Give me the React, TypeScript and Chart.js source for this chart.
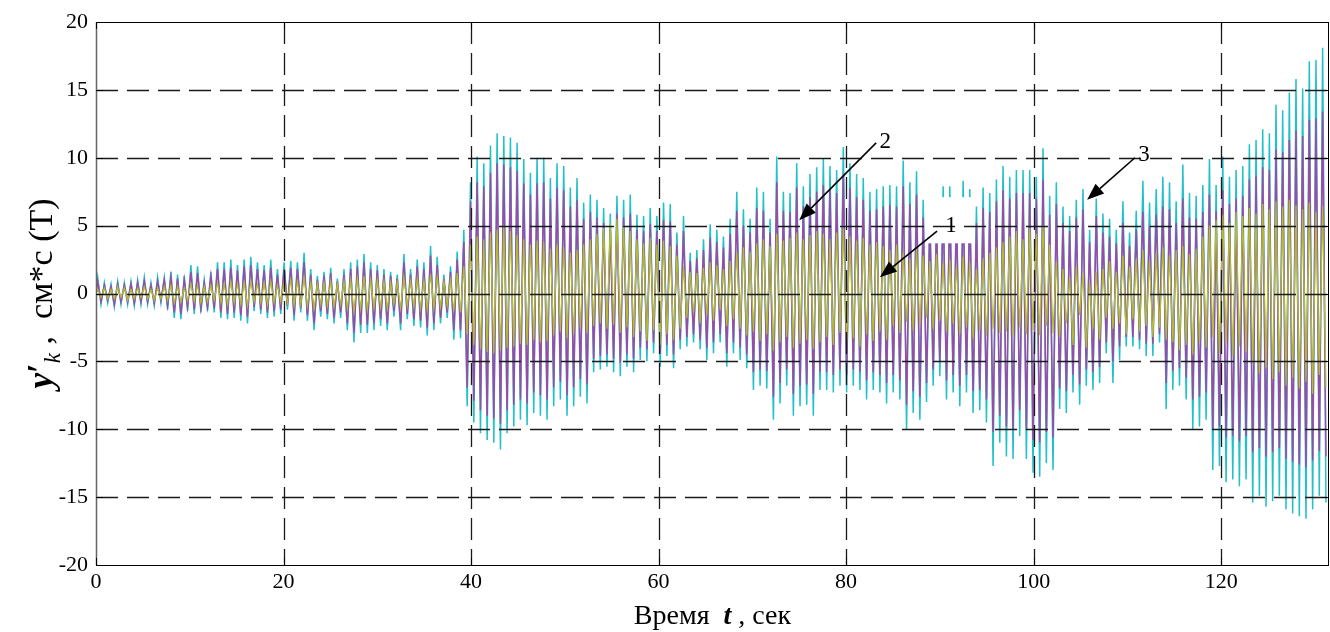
import { useEffect, useRef } from 'react';
import { Chart, registerables } from 'chart.js';

Chart.register(...registerables);

// ---- Data: one max and one min per oscillation cycle ----
const HALF_STEP = 0.355; // seconds between a crest and the following trough
const FIRST_T = 0.18;

const X_TICKS = [0, 20, 40, 60, 80, 100, 120];
const Y_TICKS = [-20, -15, -10, -5, 0, 5, 10, 15, 20];

// curve 3 (cyan)
const CYAN_MAX = [
  1.2, 0.8, 0.7, 0.9, 0.8, 0.9, 1.0, 1.2, 0.8, 1.2, 1.2, 1.6, 1.4, 1.3, 2.1, 2.0, 1.0, 1.6, 2.3, 2.3, 2.5, 2.1, 2.5, 2.7, 2.3, 2.1, 2.5, 1.8,
  2.3, 2.4, 2.3, 3.0, 1.8, 1.3, 1.6, 1.9, 1.1, 1.8, 2.3, 2.5, 2.9, 2.3, 2.1, 1.8, 1.6, 1.4, 2.9, 1.8, 2.5, 2.3, 3.5, 2.7, 1.4, 2.0, 3.1,
  4.7, 8.2, 10.1, 9.6, 10.9, 11.8, 11.6, 11.5, 11.1, 9.9, 8.9, 10.0, 10.0, 8.5, 9.6, 9.4, 7.8, 8.5, 6.7, 7.3, 6.9, 6.3, 5.9, 7.2, 6.9,
  7.3, 5.8, 5.7, 6.3, 5.7, 6.7, 6.6, 4.5, 5.7, 3.0, 3.2, 4.0, 5.1, 4.7, 4.2, 5.5, 7.5, 6.2, 5.5, 7.8, 7.5, 5.5, 10.1, 7.5, 7.4, 9.6, 7.9, 8.8, 9.3,
  9.9, 9.4, 9.1, 10.8, 9.6, 8.8, 8.5, 7.5, 7.7, 7.9, 8.0, 7.9, 9.8, 8.2, 9.0, 6.9, 6.4, 5.9, 7.9, 7.9, 6.9, 8.3, 7.7, 6.4, 7.8, 7.4, 8.4,
  9.4, 8.6, 9.1, 9.1, 9.1, 8.6, 10.7, 7.2, 8.2, 6.4, 5.7, 6.9, 7.7, 4.7, 7.0,
  5.9, 5.5, 4.7, 6.8, 4.5, 6.1, 8.3, 6.7, 7.7, 8.6, 8.2, 6.8, 9.5, 7.4, 7.2, 8.0, 9.9, 8.0, 10.1, 8.6, 9.1, 9.4, 11.0, 11.3, 12.1, 11.8, 13.9, 13.5, 14.8, 15.8, 15.1, 17.1, 17.2, 18.1,
];
const CYAN_MIN = [
  -0.8, -0.7, -1.0, -0.8, -0.8, -0.9, -0.8, -0.8, -0.9, -0.7, -1.2, -1.8, -1.9, -1.3, -1.5, -1.4, -1.3, -1.4, -1.8, -1.9, -1.8, -2.0, -2.2, -1.3, -1.5, -1.8, -1.7, -1.5,
  -1.2, -2.0, -1.4, -2.0, -2.7, -1.7, -1.9, -2.2, -1.8, -2.7, -3.6, -2.9, -2.9, -2.7, -2.4, -2.7, -1.7, -2.7, -1.9, -2.4, -2.5, -3.1, -2.7, -2.2, -1.8, -3.4, -3.3,
  -8.3, -9.5, -10.3, -10.8, -11.0, -11.5, -10.3, -9.8, -9.3, -9.7, -8.8, -9.0, -9.3, -8.3, -7.8, -9.0, -8.3, -7.6, -8.1, -5.8, -5.6, -5.4, -5.8, -6.1, -5.4,
  -5.8, -4.9, -5.0, -4.4, -5.4, -4.6, -5.5, -4.1, -3.9, -3.6, -4.1, -4.9, -4.4, -3.6, -5.4, -4.4, -4.9, -5.5, -7.1, -6.8, -7.0, -9.3, -8.1, -6.8, -9.0, -8.3, -8.2, -9.0, -7.1,
  -7.1, -7.3, -6.8, -7.3, -6.8, -7.1, -7.8, -7.1, -7.3, -8.1, -7.3, -7.8, -10.0, -8.8, -9.3, -8.0, -6.8, -6.1, -7.8, -7.3, -8.3, -7.3, -8.8, -8.6, -9.5, -12.7, -11.0,
  -12.0, -12.2, -10.5, -12.2, -13.2, -13.5, -12.5, -13.0, -8.5, -8.8, -7.3, -8.2, -6.8, -7.1, -6.6,
  -4.4, -6.6, -4.9, -3.9, -3.9, -4.1, -4.6, -4.6, -3.6, -8.5, -7.1, -6.8, -7.8, -10.0, -9.8, -9.3, -13.0, -12.7, -13.9, -13.7, -14.2, -13.7, -15.4, -14.9, -15.7, -15.3, -14.9, -15.9, -16.2, -16.4, -16.6, -15.9, -14.9, -15.4,
];

// curve 2 (magenta)
const MAG_MAX = [
  0.9, 0.6, 0.5, 0.7, 0.6, 0.7, 0.8, 0.9, 0.6, 0.9, 1.0, 1.2, 1.1, 1.0, 1.6, 1.5, 0.8, 1.3, 1.8, 1.8, 1.9, 1.7, 2.0, 2.1, 1.8, 1.7, 1.9, 1.4,
  1.8, 1.9, 1.8, 2.3, 1.4, 1.0, 1.3, 1.5, 0.9, 1.4, 1.8, 2.0, 2.3, 1.8, 1.7, 1.4, 1.3, 1.1, 2.3, 1.4, 2.0, 1.8, 2.8, 2.1, 1.1, 1.6, 2.5,
  3.8, 6.8, 8.2, 7.9, 8.9, 9.6, 9.5, 9.3, 9.0, 8.1, 7.3, 8.1, 8.2, 7.0, 7.8, 7.6, 6.4, 6.9, 5.5, 6.0, 5.6, 5.2, 4.8, 5.9, 5.6,
  5.9, 4.7, 4.6, 5.1, 4.6, 5.4, 5.3, 3.6, 4.6, 2.4, 2.6, 3.2, 4.1, 3.8, 3.4, 4.4, 6.1, 5.0, 4.5, 6.3, 6.1, 4.5, 8.2, 6.1, 6.0, 7.8, 6.4, 7.1, 7.5,
  8.0, 7.6, 7.4, 8.7, 7.8, 7.1, 6.9, 6.1, 6.2, 6.4, 6.5, 6.4, 7.9, 6.6, 7.3, 5.6, 5.2, 4.8, 6.4, 6.4, 5.6, 6.7, 6.2, 5.2, 6.3, 6.0, 6.8,
  7.6, 7.0, 7.4, 7.4, 7.4, 7.0, 8.4, 5.8, 6.6, 5.2, 4.6, 5.6, 6.2, 3.8, 5.7,
  4.5, 4.2, 3.7, 5.2, 3.5, 4.7, 6.0, 5.0, 5.8, 6.4, 6.2, 5.2, 7.0, 5.6, 5.5, 6.0, 7.3, 6.1, 7.6, 6.6, 7.0, 7.2, 8.4, 8.7, 9.3, 9.1, 10.6, 10.4, 11.3, 12.0, 11.6, 12.8, 12.9, 13.4,
];
const MAG_MIN = [
  -0.6, -0.5, -0.8, -0.6, -0.6, -0.7, -0.6, -0.6, -0.7, -0.5, -0.9, -1.4, -1.5, -1.0, -1.2, -1.1, -1.0, -1.1, -1.4, -1.5, -1.4, -1.6, -1.7, -1.0, -1.2, -1.4, -1.3, -1.2,
  -0.9, -1.6, -1.1, -1.6, -2.2, -1.3, -1.5, -1.8, -1.4, -2.2, -2.9, -2.3, -2.3, -2.2, -1.9, -2.2, -1.3, -2.2, -1.5, -1.9, -2.0, -2.5, -2.2, -1.8, -1.4, -2.7, -2.7,
  -6.9, -7.9, -8.6, -9.0, -9.2, -9.6, -8.6, -8.2, -7.8, -8.1, -7.3, -7.5, -7.8, -6.9, -6.5, -7.5, -6.9, -6.3, -6.7, -4.8, -4.6, -4.5, -4.8, -5.1, -4.5,
  -4.8, -4.0, -4.1, -3.6, -4.4, -3.8, -4.5, -3.4, -3.2, -3.0, -3.4, -4.0, -3.6, -3.0, -4.4, -3.6, -4.0, -4.5, -5.8, -5.6, -5.7, -7.6, -6.6, -5.6, -7.4, -6.8, -6.7, -7.4, -5.8,
  -5.8, -6.0, -5.6, -6.0, -5.6, -5.8, -6.4, -5.8, -6.0, -6.6, -6.0, -6.4, -8.2, -7.2, -7.6, -6.6, -5.6, -5.0, -6.4, -6.0, -6.8, -6.0, -7.2, -7.1, -7.8, -10.2, -9.0,
  -9.8, -10.0, -8.6, -10.0, -10.8, -11.0, -10.2, -10.6, -7.0, -7.2, -6.0, -6.7, -5.6, -5.8, -5.4,
  -3.6, -5.0, -3.9, -3.2, -3.2, -3.4, -3.7, -3.7, -3.0, -6.6, -5.7, -5.5, -6.2, -7.8, -7.6, -7.3, -10.0, -9.8, -10.6, -10.5, -10.9, -10.5, -11.7, -11.4, -12.0, -11.7, -11.4, -12.2, -12.4, -12.6, -12.8, -12.3, -11.6, -12.0,
];

// curve 1 (yellow-green)
const YEL_MAX = [
  0.3, 0.4, 0.3, 0.5, 0.4, 0.3, 0.4, 0.5, 0.3, 0.4, 0.5, 0.6, 0.5, 0.4,
  0.7, 0.6, 0.5, 0.6, 0.8, 0.7, 0.9, 0.7, 0.8, 0.9, 0.7, 0.8, 0.9, 0.6,
  0.9, 1.0, 0.9, 1.2, 0.8, 0.7, 0.8, 0.9, 0.7, 0.9, 1.0, 1.1, 1.3, 1.0, 1.0, 0.9, 0.8, 0.8, 1.2, 0.9, 1.1, 1.0, 1.4, 1.2, 0.9, 1.0, 1.5,
  2.0, 3.6, 4.2, 4.0, 4.5, 4.7, 5.0, 4.6, 4.3, 4.0, 3.6, 3.9, 3.8, 3.3, 3.6, 3.4, 3.0, 3.2, 3.6, 4.0, 4.4, 4.8, 5.2, 5.5, 5.0,
  4.6, 4.0, 3.7, 4.1, 3.6, 3.9, 3.5, 2.8, 2.0, 1.6, 1.5, 1.9, 2.3, 2.1, 1.8, 2.4, 3.0, 3.4, 3.1, 3.7, 4.0, 3.5, 4.4, 3.9, 4.1, 4.5, 4.0, 4.3, 4.6,
  4.4, 4.0, 4.5, 4.8, 4.2, 3.9, 4.1, 3.6, 3.8, 3.5, 3.2, 3.6, 3.0, 2.6, 3.3, 2.8, 2.4, 2.9, 2.2, 2.5, 2.0, 2.7, 2.3, 1.8, 2.6, 3.0, 3.4,
  3.8, 4.2, 4.6, 4.0, 4.8, 4.4, 5.0, 3.6, 2.4, 1.8, 1.2, 2.0, 1.5, 0.8, 1.6,
  1.8, 2.4, 1.6, 2.8, 2.0, 2.6, 3.2, 2.4, 3.0, 3.4, 2.8, 3.2, 3.5, 2.9, 3.3, 4.2, 5.0, 5.4, 5.8, 5.2, 6.0, 5.7, 6.3, 5.9, 6.6, 6.2, 6.8, 6.4, 6.9, 6.5, 6.2, 6.7, 6.0, 6.4,
];
const YEL_MIN = [
  -0.3, -0.4, -0.4, -0.3, -0.5, -0.4, -0.3, -0.4, -0.5, -0.4, -0.5, -0.7, -0.6, -0.5,
  -0.6, -0.7, -0.6, -0.5, -0.7, -0.8, -0.7, -0.8, -0.9, -0.6, -0.7, -0.8, -0.7, -0.6,
  -0.7, -0.9, -0.8, -0.9, -1.1, -0.8, -0.9, -1.0, -0.8, -1.1, -1.3, -1.1, -1.2, -1.1, -1.0, -1.1, -0.8, -1.1, -0.9, -1.0, -1.1, -1.2, -1.1, -1.0, -0.9, -1.3, -1.4,
  -3.0, -3.8, -4.1, -4.3, -4.4, -4.2, -4.0, -3.9, -3.7, -3.8, -3.4, -3.6, -3.5, -3.1, -2.8, -3.3, -3.0, -2.6, -2.9, -2.4, -2.2, -2.6, -2.3, -2.9, -2.5,
  -3.2, -2.8, -3.5, -2.7, -3.8, -3.0, -3.4, -2.6, -1.8, -1.4, -2.2, -1.6, -2.0, -1.2, -2.4, -1.9, -2.6, -3.1, -2.8, -3.5, -3.0, -4.2, -3.6, -3.2, -4.0, -3.7, -3.4, -4.1, -3.6,
  -3.2, -3.8, -2.9, -3.6, -3.3, -3.9, -3.0, -3.5, -2.8, -3.4, -2.4, -2.9, -2.1, -2.7, -2.3, -1.8, -2.6, -2.0, -2.8, -2.2, -3.0, -2.5, -3.3, -2.7, -3.1, -2.6, -2.9,
  -2.8, -3.1, -2.5, -3.0, -2.7, -3.1, -2.4, -2.9, -3.2, -2.2, -3.8, -1.6, -4.0, -2.6, -3.4,
  -1.8, -2.6, -2.2, -3.0, -1.9, -2.8, -2.4, -3.2, -2.5, -3.4, -3.6, -4.2, -3.8, -4.5, -3.6, -4.0, -3.2, -4.4, -3.7, -4.6, -3.9, -4.3, -5.2, -5.9, -5.5, -6.3, -5.8, -6.8, -6.2, -7.0, -6.5, -7.4, -6.0, -6.9,
];

const SERIES = [
  { name: '1', max: YEL_MAX, min: YEL_MIN, color: '#b5bd2c', width: 1.2, order: 1 },
  { name: '2', max: MAG_MAX, min: MAG_MIN, color: '#9b4ba7', width: 1.5, order: 2 },
  { name: '3', max: CYAN_MAX, min: CYAN_MIN, color: '#22c0c8', width: 1.5, order: 3 },
];

// callouts in data units: label position, arrow start, arrow tip
const CALLOUTS = [
  { text: '2', lx: 84.1, ly: 11.2, sx: 83.2, sy: 11.1, tx: 75.0, ty: 5.4 },
  { text: '1', lx: 91.1, ly: 5.0, sx: 89.7, sy: 4.6, tx: 83.6, ty: 1.2 },
  { text: '3', lx: 111.7, ly: 10.2, sx: 110.8, sy: 10.0, tx: 105.7, ty: 6.9 },
];

const SERIF = '"Liberation Serif", "Times New Roman", serif';

function buildPoints(maxArr: number[], minArr: number[]) {
  const pts: { x: number; y: number }[] = [{ x: 0, y: 0 }];
  const n = Math.min(maxArr.length, minArr.length);
  for (let i = 0; i < n; i++) {
    pts.push({ x: FIRST_T + 2 * HALF_STEP * i, y: maxArr[i] });
    pts.push({ x: FIRST_T + 2 * HALF_STEP * i + HALF_STEP, y: minArr[i] });
  }
  return pts;
}

function drawSegments(ctx: CanvasRenderingContext2D, segs: { t: string; f: string; dy?: number }[], cx: number, baseY: number) {
  let total = 0;
  for (const s of segs) {
    ctx.font = s.f;
    total += ctx.measureText(s.t).width;
  }
  let x = cx - total / 2;
  for (const s of segs) {
    ctx.font = s.f;
    ctx.fillText(s.t, x, baseY + (s.dy || 0));
    x += ctx.measureText(s.t).width;
  }
}

const overlayPlugin = {
  id: 'overlay',
  afterDatasetsDraw(chart: any) {
    const { ctx, chartArea: a, scales } = chart;
    const xs = scales.x;
    const ys = scales.y;
    ctx.save();
    // white box behind label 1
    const b = CALLOUTS[1];
    ctx.fillStyle = '#fff';
    const bx1 = xs.getPixelForValue(b.lx - 2.5);
    const bx2 = xs.getPixelForValue(b.lx + 2.4);
    const by1 = ys.getPixelForValue(b.ly + 2.1);
    const by2 = ys.getPixelForValue(b.ly - 1.3);
    ctx.fillRect(bx1, by1, bx2 - bx1, by2 - by1);

    // dashed grid on top of the curves
    ctx.strokeStyle = '#1a1a1a';
    ctx.lineWidth = 1.3;
    ctx.setLineDash([22, 9]);
    for (const v of X_TICKS) {
      if (v === 0) continue;
      const px = Math.round(xs.getPixelForValue(v)) + 0.5;
      ctx.beginPath();
      ctx.moveTo(px, a.top);
      ctx.lineTo(px, a.bottom);
      ctx.stroke();
    }
    for (const v of Y_TICKS) {
      if (v === -20 || v === 20) continue;
      const py = Math.round(ys.getPixelForValue(v)) + 0.5;
      ctx.beginPath();
      ctx.moveTo(a.left, py);
      ctx.lineTo(a.right, py);
      ctx.stroke();
    }
    ctx.setLineDash([]);

    // frame and inner ticks
    ctx.strokeStyle = '#000';
    ctx.lineWidth = 1;
    ctx.strokeRect(Math.round(a.left) + 0.5, Math.round(a.top) + 0.5, Math.round(a.right - a.left) - 1, Math.round(a.bottom - a.top));
    ctx.strokeStyle = '#666';
    ctx.lineWidth = 1.5;
    ctx.beginPath();
    ctx.moveTo(Math.round(a.left) + 0.5, a.top);
    ctx.lineTo(Math.round(a.left) + 0.5, a.bottom);
    ctx.stroke();
    ctx.strokeStyle = '#000';
    ctx.lineWidth = 1;
    ctx.beginPath();
    for (const v of X_TICKS) {
      const px = Math.round(xs.getPixelForValue(v)) + 0.5;
      ctx.moveTo(px, a.bottom);
      ctx.lineTo(px, a.bottom - 7);
      ctx.moveTo(px, a.top);
      ctx.lineTo(px, a.top + 7);
    }
    for (const v of Y_TICKS) {
      const py = Math.round(ys.getPixelForValue(v)) + 0.5;
      ctx.moveTo(a.left, py);
      ctx.lineTo(a.left + 7, py);
      ctx.moveTo(a.right, py);
      ctx.lineTo(a.right - 7, py);
    }
    ctx.stroke();

    // callouts
    ctx.fillStyle = '#000';
    ctx.strokeStyle = '#000';
    ctx.lineWidth = 1.6;
    for (const c of CALLOUTS) {
      const sx = xs.getPixelForValue(c.sx);
      const sy = ys.getPixelForValue(c.sy);
      const tx = xs.getPixelForValue(c.tx);
      const ty = ys.getPixelForValue(c.ty);
      const ang = Math.atan2(ty - sy, tx - sx);
      const headLen = 17;
      const headW = 6.5;
      const bxp = tx - headLen * Math.cos(ang);
      const byp = ty - headLen * Math.sin(ang);
      ctx.beginPath();
      ctx.moveTo(sx, sy);
      ctx.lineTo(bxp, byp);
      ctx.stroke();
      ctx.beginPath();
      ctx.moveTo(tx, ty);
      ctx.lineTo(bxp + headW * Math.sin(ang), byp - headW * Math.cos(ang));
      ctx.lineTo(bxp - headW * Math.sin(ang), byp + headW * Math.cos(ang));
      ctx.closePath();
      ctx.fill();
      ctx.font = `23px ${SERIF}`;
      ctx.textAlign = 'left';
      ctx.textBaseline = 'middle';
      ctx.fillText(c.text, xs.getPixelForValue(c.lx) - 5, ys.getPixelForValue(c.ly));
    }
    ctx.restore();
  },
  afterDraw(chart: any) {
    const { ctx, chartArea: a } = chart;
    ctx.save();
    ctx.fillStyle = '#000';
    ctx.textAlign = 'left';
    ctx.textBaseline = 'alphabetic';
    // x title
    drawSegments(
      ctx,
      [
        { t: 'Время  ', f: `28px ${SERIF}` },
        { t: 't', f: `bold italic 28px ${SERIF}` },
        { t: ' , сек', f: `28px ${SERIF}` },
      ],
      (a.left + a.right) / 2,
      624
    );
    // y title (rotated)
    ctx.translate(52, (a.top + a.bottom) / 2);
    ctx.rotate(-Math.PI / 2);
    drawSegments(
      ctx,
      [
        { t: 'y', f: `bold italic 35px ${SERIF}` },
        { t: '′', f: `bold 35px ${SERIF}` },
        { t: 'k', f: `italic 23px ${SERIF}`, dy: 8 },
        { t: ' ,  см*с (Т)', f: `34px ${SERIF}` },
      ],
      0,
      0
    );
    ctx.restore();
  },
};

export default function App() {
  const ref = useRef<HTMLCanvasElement | null>(null);
  useEffect(() => {
    document.body.style.margin = '0';
    const canvas = ref.current;
    if (!canvas) return;
    const chart = new Chart(canvas, {
      type: 'line',
      data: {
        datasets: SERIES.map((s) => ({
          label: s.name,
          data: buildPoints(s.max, s.min),
          borderColor: s.color,
          backgroundColor: s.color,
          borderWidth: s.width,
          pointRadius: 0,
          tension: 0,
          fill: false,
          order: s.order,
        })),
      },
      options: {
        animation: false,
        responsive: false,
        devicePixelRatio: 1,
        layout: { padding: { top: 22, right: 1, left: 0, bottom: 0 } },
        plugins: { legend: { display: false }, tooltip: { enabled: false }, title: { display: false } },
        scales: {
          x: {
            type: 'linear',
            min: 0,
            max: 131.5,
            afterBuildTicks: (scale: any) => {
              scale.ticks = X_TICKS.map((v) => ({ value: v }));
            },
            afterFit: (scale: any) => {
              scale.height = 67;
            },
            grid: { display: false, drawTicks: false },
            border: { display: false },
            ticks: { color: '#000', font: { family: SERIF, size: 22 }, padding: 4, maxRotation: 0, autoSkip: false },
          },
          y: {
            type: 'linear',
            min: -20,
            max: 20,
            afterBuildTicks: (scale: any) => {
              scale.ticks = Y_TICKS.map((v) => ({ value: v }));
            },
            afterFit: (scale: any) => {
              scale.width = 96;
            },
            grid: { display: false, drawTicks: false },
            border: { display: false },
            ticks: { color: '#000', font: { family: SERIF, size: 22 }, padding: 8, autoSkip: false },
          },
        },
      },
      plugins: [overlayPlugin],
    });
    return () => chart.destroy();
  }, []);
  return (
    <div style={{ width: 1330, height: 632, background: '#fff' }}>
      <canvas ref={ref} width={1330} height={632} style={{ display: 'block' }} />
    </div>
  );
}
